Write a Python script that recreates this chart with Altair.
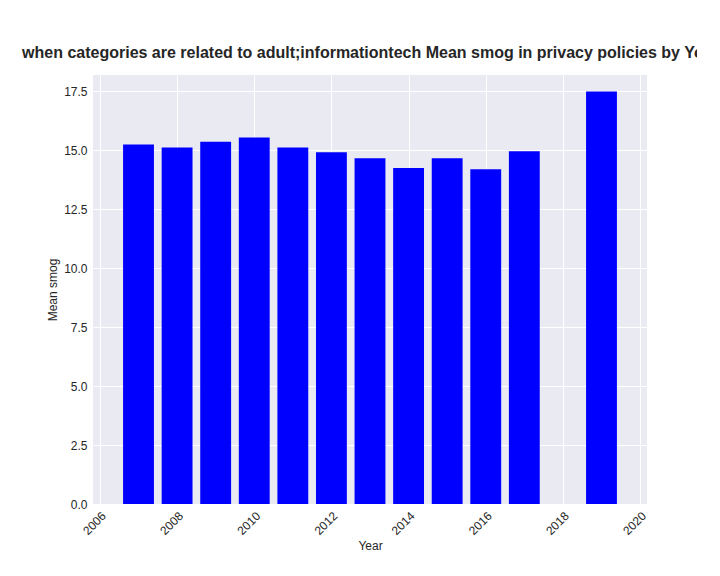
import pandas as pd
import altair as alt

years = [2007, 2008, 2009, 2010, 2011, 2012, 2013, 2014, 2015, 2016, 2017, 2019]
mean_smog = [15.25, 15.12, 15.37, 15.55, 15.12, 14.92, 14.67, 14.25, 14.67, 14.2, 14.97, 17.5]

df = pd.DataFrame({"Year": years, "smog": mean_smog})

bars = (alt.Chart(df)
    .transform_calculate(x0="datum.Year - 0.4", x1="datum.Year + 0.4")
    .mark_bar(color="blue", orient="vertical")
    .encode(
        x=alt.X("x0:Q", title="Year",
                scale=alt.Scale(domain=[2005.95, 2020.05], nice=False, zero=False),
                axis=alt.Axis(values=list(range(2006, 2021, 2)), format="d",
                              labelAngle=-45, labelAlign="right", labelBaseline="top")),
        x2="x1:Q",
        y=alt.Y("smog:Q", title="Mean smog",
                scale=alt.Scale(domain=[0, 18.2], nice=False),
                axis=alt.Axis(values=[0, 2.5, 5, 7.5, 10, 12.5, 15, 17.5], format=".1f")),
        y2=alt.datum(0)))

chart = (bars.properties(
        width=554, height=429,
        title="when categories are related to adult;informationtech Mean smog in privacy policies by Year",
        autosize=alt.AutoSizeParams(type="none"),
        padding={"left": 85, "top": 67, "right": 50, "bottom": 64})
    .configure_view(fill="#EAEAF2", stroke=None)
    .configure_axis(grid=True, gridColor="white", domain=False, ticks=False,
                    labelFont="Arial", titleFont="Arial", labelFontSize=12,
                    titleFontSize=12, titleFontWeight="normal", labelColor="#262626",
                    titleColor="#262626", labelPadding=6)
    .configure_title(font="Arial", fontSize=16, fontWeight="bold", color="#262626",
                     anchor="middle", offset=14, limit=0))

chart.save("out.html", embed_options={"renderer": "svg", "actions": False})
